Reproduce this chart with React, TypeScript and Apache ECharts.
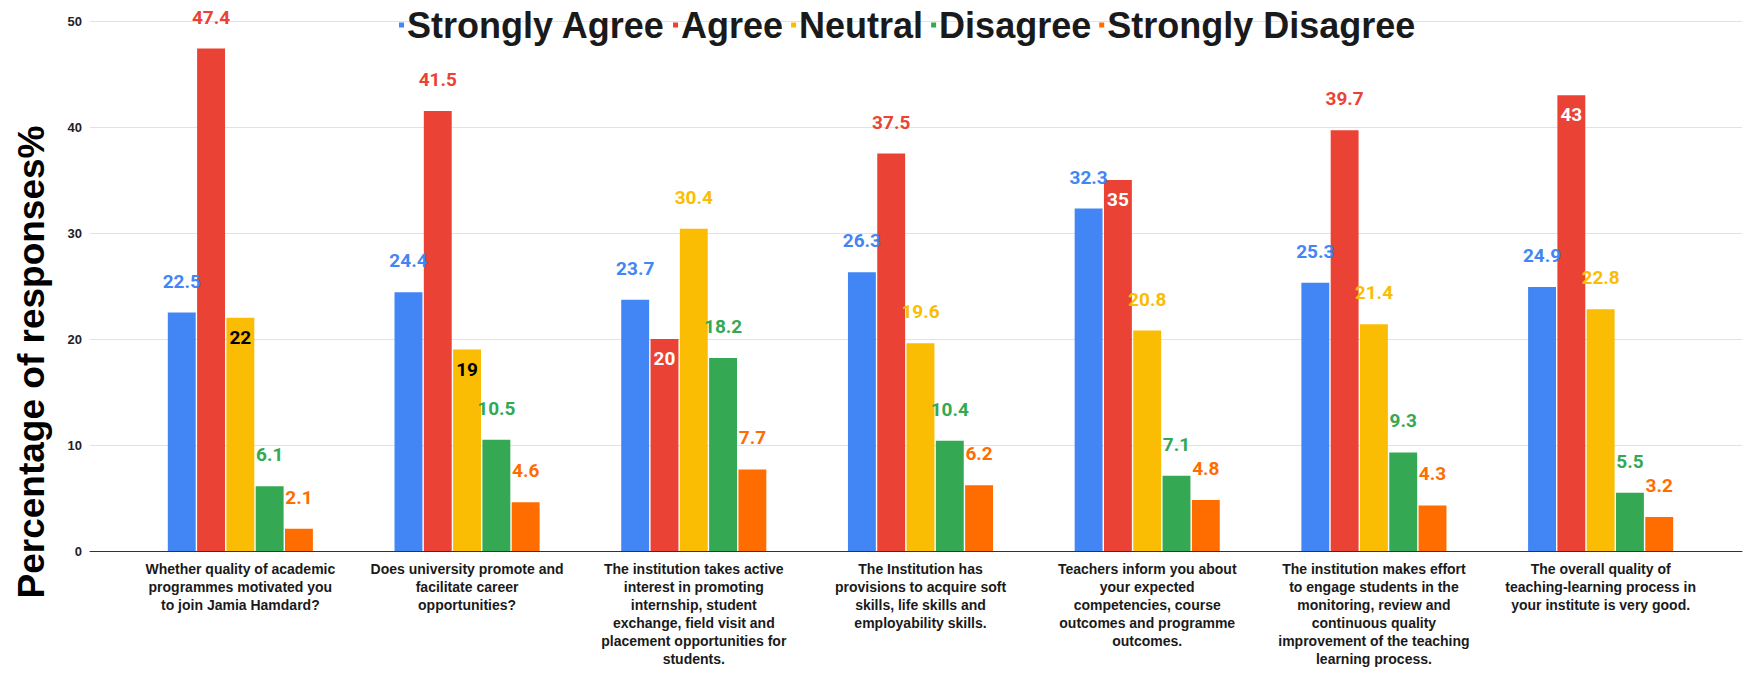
import React, { useEffect, useRef } from "react";
import * as echarts from "echarts";

const categories = [
  "Whether quality of academic\nprogrammes motivated you\nto join Jamia Hamdard?",
  "Does university promote and\nfacilitate career\nopportunities?",
  "The institution takes active\ninterest in promoting\ninternship, student\nexchange, field visit and\nplacement opportunities for\nstudents.",
  "The Institution has\nprovisions to acquire soft\nskills, life skills and\nemployability skills.",
  "Teachers inform you about\nyour expected\ncompetencies, course\noutcomes and programme\noutcomes.",
  "The institution makes effort\nto engage students in the\nmonitoring, review and\ncontinuous quality\nimprovement of the teaching\nlearning process.",
  "The overall quality of\nteaching-learning process in\nyour institute is very good.",
];

const seriesNames = ["Strongly Agree", "Agree", "Neutral", "Disagree", "Strongly Disagree"];
const stronglyAgree = [22.5, 24.4, 23.7, 26.3, 32.3, 25.3, 24.9];
const agree = [47.4, 41.5, 20, 37.5, 35, 39.7, 43];
const neutral = [22, 19, 30.4, 19.6, 20.8, 21.4, 22.8];
const disagree = [6.1, 10.5, 18.2, 10.4, 7.1, 9.3, 5.5];
const stronglyDisagree = [2.1, 4.6, 7.7, 6.2, 4.8, 4.3, 3.2];
const yTicks = [0, 10, 20, 30, 40, 50];

// indices whose value labels sit inside the bar top
const agreeInside = [2, 4, 6];
const neutralInside = [0, 1];

const colors = ["#4285F4", "#EA4335", "#FBBC04", "#34A853", "#FF6D01"];

export default function App() {
  const ref = useRef<HTMLDivElement>(null);
  useEffect(() => {
    if (!ref.current) return;
    const chart = echarts.init(ref.current, null, { renderer: "svg" });
    const allData = [stronglyAgree, agree, neutral, disagree, stronglyDisagree];
    const insideMap: Record<number, { idx: number[]; color: string }> = {
      1: { idx: agreeInside, color: "#ffffff" },
      2: { idx: neutralInside, color: "#000000" },
    };
    const series = allData.map((arr, si) => ({
      name: seriesNames[si],
      type: "bar",
      xAxisIndex: 1,
      yAxisIndex: 1,
      barGap: "5%",
      barCategoryGap: "36%",
      itemStyle: { color: colors[si] },
      label: {
        show: true,
        position: "top",
        distance: 22,
        color: colors[si],
        fontSize: 19,
        fontWeight: "bold",
        fontFamily: "Roboto",
      },
      data: arr.map((v, i) => {
        const ins = insideMap[si];
        if (ins && ins.idx.includes(i)) {
          return {
            value: v,
            label: { position: "insideTop", distance: 10, color: ins.color },
          };
        }
        return v;
      }),
    }));

    chart.setOption({
      animation: false,
      color: colors,
      legend: {
        data: seriesNames,
        top: 2,
        left: 394,
        icon: "rect",
        itemWidth: 5,
        itemHeight: 5,
        itemGap: 8,
        textStyle: {
          fontSize: 36,
          fontWeight: "bold",
          fontFamily: "'Liberation Sans', Arial, sans-serif",
          color: "#1a1a1a",
          padding: [0, 0, 0, -2],
        },
      },
      grid: [
        { left: 90, right: 2, top: 21, bottom: 122 },
        { left: 127, right: 30, top: 21, bottom: 122 },
      ],
      xAxis: [
        {
          gridIndex: 0,
          type: "category",
          data: categories,
          axisLabel: { show: false },
          axisTick: { show: false },
          axisLine: { show: true, lineStyle: { color: "#333333", width: 1 } },
        },
        {
          gridIndex: 1,
          type: "category",
          data: categories,
          axisLine: { show: false },
          axisTick: { show: false },
          axisLabel: {
            interval: 0,
            margin: 9,
            fontSize: 14,
            lineHeight: 18,
            fontWeight: "bold",
            fontFamily: "'Liberation Sans', Arial, sans-serif",
            color: "#1a1a1a",
          },
        },
      ],
      yAxis: [
        {
          gridIndex: 0,
          type: "value",
          min: yTicks[0],
          max: yTicks[yTicks.length - 1],
          interval: 10,
          axisLine: { show: false },
          axisTick: { show: false },
          splitLine: { lineStyle: { color: "#e2e2e2", width: 1 } },
          axisLabel: {
            margin: 8,
            fontSize: 13,
            fontWeight: "bold",
            fontFamily: "'Liberation Sans', Arial, sans-serif",
            color: "#222222",
          },
        },
        {
          gridIndex: 1,
          type: "value",
          min: yTicks[0],
          max: yTicks[yTicks.length - 1],
          interval: 10,
          show: false,
        },
      ],
      graphic: [
        {
          type: "text",
          x: 31,
          y: 362,
          rotation: Math.PI / 2,
          style: {
            text: "Percentage of responses%",
            fontSize: 37,
            fontWeight: "bold",
            fontFamily: "'Liberation Sans', Arial, sans-serif",
            fill: "#000000",
            align: "center",
            verticalAlign: "middle",
          },
        },
      ],
      series,
    });
    return () => chart.dispose();
  }, []);
  return (
    <div
      ref={ref}
      style={{ position: "absolute", left: 0, top: 0, width: 1744, height: 673, background: "#fff" }}
    />
  );
}
